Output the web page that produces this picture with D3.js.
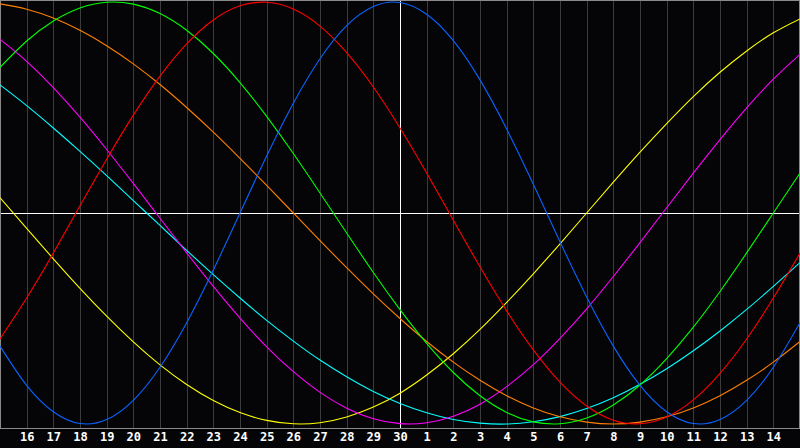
<!DOCTYPE html>
<html>
<head>
    <meta charset="utf-8">
    <title>Biorhythm</title>
    <script src="https://cdn.jsdelivr.net/npm/d3@7"></script>
    <style>
        html, body { margin: 0; padding: 0; background: #050508; }
        svg { display: block; }
    </style>
</head>
<body>
    <div id="chart"></div>
    <script>
        var width = 800,
            height = 448,
            plotBottom = 428;

        // day labels under the grid lines (15th is the left edge, 15th next month the right)
        var tickLabels = ["16","17","18","19","20","21","22","23","24","25","26","27","28","29","30",
                          "1","2","3","4","5","6","7","8","9","10","11","12","13","14"];

        // one value per day, percent
        var physical     = [-63.1,-81.7,-94.2,-99.8,-97.9,-88.8,-73.1,-52.0,-27.0,0,27.0,52.0,73.1,88.8,97.9,99.8,94.2,81.7,63.1,39.8,13.6,-13.6,-39.8,-63.1,-81.7,-94.2,-99.8,-97.9,-88.8,-73.1,-52.0];
        var emotional    = [-59.7,-40.3,-19.0,3.4,25.5,46.4,64.9,80.2,91.5,98.2,99.9,96.7,88.6,76.0,59.7,40.3,19.0,-3.4,-25.5,-46.4,-64.9,-80.2,-91.5,-98.2,-99.9,-96.7,-88.6,-76.0,-59.7,-40.3,-19.0];
        var intellectual = [69.0,81.5,91.0,97.2,99.9,99.0,94.5,86.6,75.6,61.8,45.8,28.2,9.5,-9.5,-28.2,-45.8,-61.8,-75.6,-86.6,-94.5,-99.0,-99.9,-97.2,-91.0,-81.5,-69.0,-54.1,-37.2,-18.9,0,18.9];
        var intuitive    = [82.3,71.9,59.4,45.4,30.1,14.0,-2.5,-18.9,-34.8,-49.8,-63.4,-75.2,-85.0,-92.5,-97.5,-99.8,-99.4,-96.3,-90.6,-82.3,-71.9,-59.4,-45.4,-30.1,-14.0,2.5,18.9,34.8,49.8,63.4,75.2];
        var aesthetic    = [7.3,-7.3,-21.7,-35.7,-48.9,-61.1,-72.0,-81.3,-88.9,-94.6,-98.3,-99.9,-99.4,-96.7,-92.0,-85.4,-76.8,-66.7,-55.2,-42.4,-28.8,-14.6,0,14.6,28.8,42.4,55.2,66.7,76.8,85.4,92.0];
        var awareness    = [99.1,96.6,92.4,86.6,79.3,70.7,60.9,50.0,38.3,25.9,13.1,0,-13.1,-25.9,-38.3,-50.0,-60.9,-70.7,-79.3,-86.6,-92.4,-96.6,-99.1,-100,-99.1,-96.6,-92.4,-86.6,-79.3,-70.7,-60.9];
        var spiritual    = [60.7,50.9,40.3,29.2,17.7,5.9,-5.9,-17.7,-29.2,-40.3,-50.9,-60.7,-69.7,-77.6,-84.6,-90.3,-94.7,-97.9,-99.6,-100,-98.9,-96.5,-92.7,-87.6,-81.2,-73.8,-65.3,-55.9,-45.7,-34.8,-23.5];

        var series = [
            {values: aesthetic,    color: "#ffff00"},
            {values: spiritual,    color: "#00ffff"},
            {values: awareness,    color: "#ff8000"},
            {values: intuitive,    color: "#ff00ff"},
            {values: intellectual, color: "#00ff00"},
            {values: emotional,    color: "#ff0000"},
            {values: physical,     color: "#0a64ff"}
        ];

        var x = d3.scaleLinear().domain([0, 30]).range([0, width]);
        var y = d3.scaleLinear().domain([-100, 100]).range([424, 2]);

        var svg = d3.select("#chart").append("svg")
            .attr("width", width)
            .attr("height", height);

        svg.append("rect")
            .attr("width", width).attr("height", height)
            .attr("fill", "#050508");

        // vertical grid + day labels
        var axis = d3.axisBottom(x)
            .tickValues(d3.range(1, 30))
            .tickSize(-plotBottom)
            .tickPadding(4)
            .tickFormat(function(d){ return tickLabels[d - 1]; });

        var gx = svg.append("g")
            .attr("transform", "translate(0," + plotBottom + ")")
            .call(axis);
        gx.select(".domain").remove();
        gx.selectAll(".tick line")
            .attr("stroke", function(d){ return d == 15 ? "#ffffff" : "#3c3c3c"; })
            .attr("shape-rendering", "crispEdges");
        gx.selectAll(".tick text")
            .attr("fill", "#ffffff")
            .attr("font-family", "DejaVu Sans Mono")
            .attr("font-weight", "bold")
            .attr("font-size", 12);

        // horizontal zero line
        svg.append("line")
            .attr("x1", 0).attr("x2", width)
            .attr("y1", Math.round(y(0)) + 0.5).attr("y2", Math.round(y(0)) + 0.5)
            .attr("stroke", "#ffffff");

        // frame
        svg.append("rect")
            .attr("x", 0.5).attr("y", 0.5)
            .attr("width", width - 1).attr("height", plotBottom)
            .attr("fill", "none")
            .attr("stroke", "#8a8a8a")
            .attr("shape-rendering", "crispEdges");

        var line = d3.line()
            .x(function(d, i){ return x(i); })
            .y(function(d){ return y(d); })
            .curve(d3.curveNatural);

        svg.append("g").selectAll("path")
            .data(series)
            .enter().append("path")
            .attr("d", function(s){ return line(s.values); })
            .attr("fill", "none")
            .attr("stroke", function(s){ return s.color; })
            .attr("stroke-width", 1.1);
    </script>
</body>
</html>
